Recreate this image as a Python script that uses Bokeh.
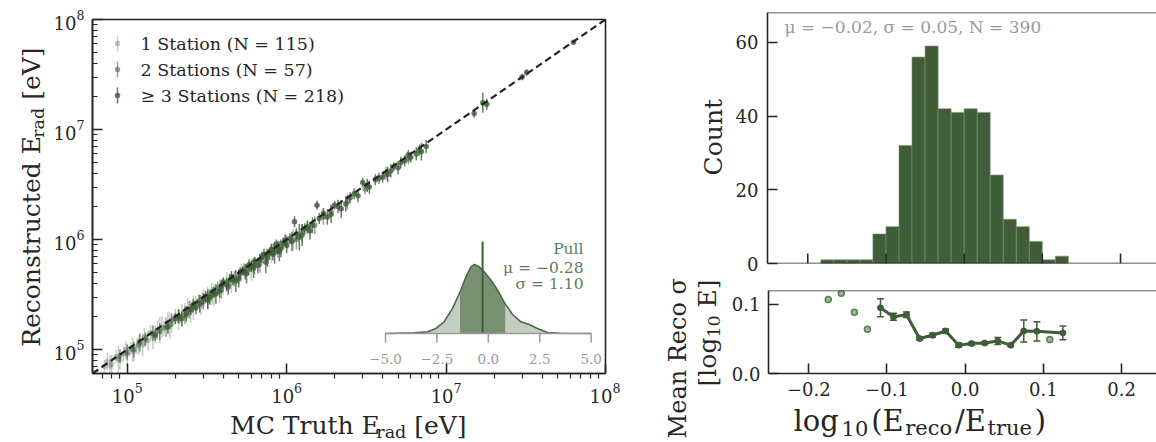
import numpy as np
from bokeh.plotting import figure
from bokeh.models import (Range1d, LinearScale, FixedTicker, LogTickFormatter,
                          Whisker, TeeHead, ColumnDataSource, Span, CustomJSTickFormatter,
                          PrintfTickFormatter)
from bokeh.layouts import row, column
from bokeh.embed import file_html
from bokeh.resources import INLINE
from bokeh.core.properties import value

# ---------------- data ----------------
# 1 station
truth_1 = [7.2e4, 8.0e4, 8.5e4, 9.0e4, 9.5e4, 1.0e5, 1.05e5, 1.1e5, 1.15e5, 1.2e5, 1.25e5,
           1.3e5, 1.35e5, 1.4e5, 1.5e5, 1.6e5, 1.7e5, 1.8e5, 1.9e5, 2.0e5, 2.1e5, 2.3e5,
           2.5e5, 2.7e5, 2.9e5, 3.2e5, 3.5e5, 4.0e5, 4.5e5, 5.2e5, 6.0e5, 8.0e5, 1.1e6,
           7.5e4, 7.8e4, 8.8e4, 9.8e4, 1.08e5, 1.18e5, 1.28e5, 1.45e5, 1.55e5, 1.65e5,
           1.85e5, 2.2e5, 2.4e5, 2.6e5, 3.0e5, 3.4e5, 3.8e5, 4.2e5]
reco_1 = [7.0e4, 7.4e4, 8.6e4, 8.0e4, 9.2e4, 9.0e4, 1.02e5, 9.6e4, 1.08e5, 1.18e5, 1.1e5,
          1.22e5, 1.2e5, 1.42e5, 1.38e5, 1.5e5, 1.55e5, 1.75e5, 1.7e5, 2.0e5, 1.85e5, 2.2e5,
          2.2e5, 2.6e5, 2.55e5, 3.1e5, 3.1e5, 3.8e5, 4.0e5, 5.0e5, 5.3e5, 7.5e5, 1.0e6,
          7.8e4, 7.1e4, 8.2e4, 9.9e4, 1.0e5, 1.1e5, 1.3e5, 1.3e5, 1.5e5, 1.6e5,
          1.65e5, 2.05e5, 2.35e5, 2.4e5, 2.9e5, 3.2e5, 3.4e5, 4.1e5]
err_1 = [0.06, 0.08, 0.06, 0.09, 0.07, 0.10, 0.06, 0.09, 0.07, 0.08, 0.10,
         0.06, 0.09, 0.07, 0.08, 0.12, 0.07, 0.10, 0.08, 0.07, 0.09, 0.08,
         0.10, 0.07, 0.09, 0.08, 0.10, 0.08, 0.09, 0.08, 0.10, 0.09, 0.10,
         0.08, 0.10, 0.12, 0.08, 0.11, 0.09, 0.08, 0.11, 0.09, 0.10,
         0.12, 0.10, 0.09, 0.11, 0.09, 0.10, 0.11, 0.09]
# 2 stations
truth_2 = [9.0e4, 1.1e5, 1.3e5, 1.6e5, 1.9e5, 2.3e5, 2.6e5, 3.0e5, 3.4e5, 3.9e5, 4.4e5, 5.0e5,
           5.8e5, 6.8e5, 7.5e5, 8.8e5, 1.0e6, 1.15e6, 1.35e6, 1.5e6, 1.9e6, 2.4e6, 3.1e6, 4.2e6,
           5.8e6, 1.0e5, 1.2e5, 1.45e5, 1.75e5, 2.1e5, 2.45e5, 2.8e5, 3.2e5, 3.7e5, 4.7e5,
           5.4e5, 6.3e5, 8.2e5, 1.25e6, 1.7e6]
reco_2 = [8.8e4, 1.0e5, 1.25e5, 1.45e5, 1.85e5, 2.05e5, 2.5e5, 2.7e5, 3.2e5, 3.5e5, 4.3e5, 4.6e5,
          5.4e5, 6.0e5, 7.3e5, 8.0e5, 9.5e5, 1.0e6, 1.3e6, 1.35e6, 1.8e6, 2.2e6, 2.9e6, 4.0e6,
          5.4e6, 9.4e4, 1.15e5, 1.4e5, 1.6e5, 2.0e5, 2.3e5, 2.75e5, 2.9e5, 3.6e5, 4.4e5,
          5.3e5, 5.8e5, 8.0e5, 1.15e6, 1.6e6]
err_2 = [0.06, 0.07, 0.06, 0.08, 0.06, 0.08, 0.06, 0.07, 0.06, 0.08, 0.05, 0.07,
         0.06, 0.08, 0.05, 0.07, 0.06, 0.09, 0.05, 0.08, 0.06, 0.07, 0.05, 0.06,
         0.05, 0.07, 0.08, 0.07, 0.09, 0.07, 0.08, 0.06, 0.09, 0.06, 0.07,
         0.06, 0.08, 0.06, 0.08, 0.07]
# >= 3 stations
truth_3 = [1.5e5, 1.8e5, 2.0e5, 2.2e5, 2.5e5, 2.7e5, 3.0e5, 3.2e5, 3.5e5, 3.8e5,
           4.0e5, 4.3e5, 4.6e5, 5.0e5, 5.3e5, 5.6e5, 6.0e5, 6.3e5, 6.6e5, 7.0e5,
           7.4e5, 7.8e5, 8.2e5, 8.6e5, 9.0e5, 9.5e5, 1.0e6, 1.05e6, 1.12e6, 1.2e6,
           1.3e6, 1.4e6, 1.55e6, 1.6e6, 1.8e6, 2.0e6, 2.2e6, 2.5e6, 2.8e6, 3.0e6,
           3.3e6, 3.6e6, 4.0e6, 4.3e6, 4.7e6, 5.0e6, 5.5e6, 6.0e6, 6.5e6, 7.0e6,
           1.5e7, 1.7e7, 1.8e7, 3.0e7, 3.2e7, 6.3e7,
           2.1e5, 2.35e5, 2.6e5, 2.85e5, 3.1e5, 3.3e5, 3.6e5, 3.9e5, 4.2e5, 4.5e5,
           4.8e5, 5.1e5, 5.5e5, 5.8e5, 6.2e5, 6.8e5, 7.2e5, 7.6e5, 8.0e5, 8.4e5,
           8.8e5, 9.2e5, 9.8e5, 1.08e6, 1.15e6, 1.25e6, 1.35e6, 1.45e6, 1.7e6, 1.9e6,
           2.1e6, 2.35e6, 2.65e6, 3.2e6, 3.8e6, 4.5e6, 5.2e6, 5.8e6, 6.8e6, 7.5e6]
reco_3 = [1.35e5, 1.6e5, 1.9e5, 1.9e5, 2.3e5, 2.4e5, 2.9e5, 2.8e5, 3.3e5, 3.4e5,
          4.1e5, 3.7e5, 4.3e5, 4.4e5, 5.2e5, 4.9e5, 5.7e5, 6.3e5, 5.8e5, 6.9e5,
          6.2e5, 7.6e5, 7.4e5, 8.9e5, 7.8e5, 9.2e5, 8.8e5, 1.02e6, 1.45e6, 1.05e6,
          1.25e6, 1.2e6, 2.05e6, 1.55e6, 1.6e6, 2.05e6, 1.9e6, 2.4e6, 2.5e6, 3.3e6,
          3.0e6, 3.5e6, 3.7e6, 3.9e6, 4.6e6, 4.5e6, 5.2e6, 5.6e6, 6.0e6, 6.3e6,
          1.4e7, 1.75e7, 1.7e7, 3.0e7, 3.3e7, 6.2e7,
          2.0e5, 2.1e5, 2.55e5, 2.6e5, 3.05e5, 3.0e5, 3.2e5, 3.8e5, 3.9e5, 4.6e5,
          4.2e5, 5.0e5, 5.1e5, 5.9e5, 5.5e5, 6.5e5, 7.3e5, 6.8e5, 8.1e5, 7.6e5,
          8.5e5, 8.3e5, 9.9e5, 9.6e5, 1.12e6, 1.1e6, 1.3e6, 1.35e6, 1.72e6, 1.7e6,
          2.0e6, 2.1e6, 2.6e6, 3.1e6, 3.6e6, 4.2e6, 5.0e6, 5.9e6, 6.5e6, 7.0e6]
err_3 = [0.05, 0.06, 0.05, 0.07, 0.05, 0.06, 0.05, 0.08, 0.05, 0.06,
         0.04, 0.07, 0.05, 0.08, 0.04, 0.09, 0.05, 0.04, 0.07, 0.05,
         0.10, 0.04, 0.06, 0.05, 0.09, 0.05, 0.07, 0.05, 0.05, 0.12,
         0.05, 0.08, 0.04, 0.05, 0.07, 0.04, 0.08, 0.05, 0.06, 0.04,
         0.06, 0.05, 0.05, 0.07, 0.04, 0.06, 0.05, 0.05, 0.06, 0.08,
         0.04, 0.09, 0.05, 0.03, 0.03, 0.02,
         0.06, 0.07, 0.05, 0.08, 0.05, 0.07, 0.09, 0.05, 0.06, 0.05,
         0.10, 0.05, 0.07, 0.05, 0.09, 0.06, 0.05, 0.08, 0.05, 0.10,
         0.06, 0.08, 0.05, 0.09, 0.05, 0.10, 0.06, 0.07, 0.05, 0.08,
         0.06, 0.07, 0.05, 0.06, 0.05, 0.06, 0.05, 0.04, 0.05, 0.06]
legend_labels = ["1 Station (N = 115)", "2 Stations (N = 57)", "\u2265 3 Stations (N = 218)"]
group_alpha = [0.3, 0.55, 0.8]

# pull distribution (KDE) for inset
pull_x = [-5.0, -3.6, -2.95, -2.55, -2.15, -1.74, -1.34, -1.09, -0.85, -0.68, -0.44,
          -0.2, 0.13, 0.45, 0.81, 1.18, 1.58, 1.99, 2.39, 2.88, 3.5, 5.0]
pull_density = [0.0, 0.003, 0.008, 0.024, 0.056, 0.120, 0.207, 0.271, 0.319, 0.330, 0.319,
                0.295, 0.255, 0.207, 0.143, 0.091, 0.056, 0.043, 0.024, 0.005, 0.001, 0.0]
pull_mu, pull_sigma = -0.28, 1.10
pull_ticks = [-5.0, -2.5, 0.0, 2.5, 5.0]
pull_tick_labels = ["\u22125.0", "\u22122.5", "0.0", "2.5", "5.0"]

# histogram of log10(Ereco/Etrue)
hist_edges = [-0.1833, -0.1667, -0.15, -0.1333, -0.1167, -0.1, -0.0833, -0.0667, -0.05,
              -0.0333, -0.0167, 0.0, 0.0167, 0.0333, 0.05, 0.0667, 0.0833, 0.1, 0.1167, 0.1333]
hist_counts = [1, 1, 1, 1, 8, 10, 32, 56, 59, 42, 41, 42, 41, 24, 12, 10, 6, 1, 2]

# mean reco sigma per bin
sig_x_line = [-0.1083, -0.0917, -0.075, -0.0583, -0.0417, -0.025, -0.0083, 0.0083,
              0.025, 0.0417, 0.0583, 0.075, 0.0917, 0.125]
sig_line = [0.095, 0.082, 0.085, 0.0505, 0.0553, 0.0615, 0.041, 0.0433, 0.044, 0.047,
            0.041, 0.0615, 0.061, 0.0587]
sig_line_err = [0.013, 0.005, 0.004, 0.002, 0.003, 0.003, 0.003, 0.002, 0.002, 0.005,
                0.002, 0.016, 0.014, 0.010]
sig_x_sparse = [-0.175, -0.1583, -0.1417, -0.125, 0.1083]
sig_sparse = [0.107, 0.116, 0.0885, 0.064, 0.049]

energy_ticks = [1e5, 1e6, 1e7, 1e8]
count_ticks = [0, 20, 40, 60]
ratio_ticks = [-0.2, -0.1, 0.0, 0.1, 0.2]
sigma_ticks = [0.0, 0.1]

# ---------------- style ----------------
FONT = "DejaVu Serif"
INK = "#262626"
GREEN = "#3f5e38"
SPINE_W = 1.6
TICK_FS = "18px"
K_MID = 0.346   # baseline -> middle offset (fraction of font size)

WID = {' ': 318, '(': 390, ')': 390, '/': 337, '[': 390, ']': 390, '.': 318, ',': 318,
       'C': 698, 'E': 683, 'M': 995, 'R': 732, 'T': 668, 'V': 775, 'N': 872,
       'a': 596, 'c': 560, 'd': 640, 'e': 592, 'g': 640, 'h': 644, 'l': 320, 'n': 644,
       'o': 602, 'r': 478, 's': 513, 't': 402, 'u': 644, '\u03c3': 624}


def tw(s, size):
    return sum(WID.get(c, 636) for c in s) / 1000.0 * size


def label_fig(x0, x1, y0, y1, bl=0, br=0, bt=0, bb=0):
    """Blank figure whose data coordinates equal page pixels (x0..x1, y0..y1)."""
    f = figure(width=x1 - x0, height=y1 - y0,
               x_range=Range1d(x0 + bl, x1 - br), y_range=Range1d(y1 - bb, y0 + bt),
               min_border_left=bl, min_border_right=br, min_border_top=bt,
               min_border_bottom=bb, x_axis_location=None, y_axis_location=None,
               output_backend="svg", toolbar_location=None)
    f.grid.visible = False
    f.outline_line_color = None
    return f


def add_pieces(fig, pieces, anchor, rotated=False, align="center", gap=0.0):
    """pieces: (text, font px, baseline shift px); anchor = (baseline/along) page pixels."""
    total = sum(tw(t, s) for t, s, _ in pieces) + gap * (len(pieces) - 1)
    along, base = (anchor[1], anchor[0]) if rotated else anchor
    if rotated:
        pos = along + total / 2 if align == "center" else along
    else:
        pos = along - total / 2 if align == "center" else along
    sign = -1 if rotated else 1
    for t, s, dy in pieces:
        lead = len(t) - len(t.lstrip(" "))
        pos += sign * tw(" " * lead, s)
        core = t.strip(" ")
        mid = base + dy - K_MID * s
        if rotated:
            fig.text([mid], [pos], text=[core], angle=np.pi / 2, text_font=value(FONT),
                     text_font_size=value(f"{s}px"), text_color=INK,
                     text_align="left", text_baseline="middle")
        else:
            fig.text([pos], [mid], text=[core], text_font=value(FONT),
                     text_font_size=value(f"{s}px"), text_color=INK,
                     text_align="left", text_baseline="middle")
        pos += sign * (tw(core, s) + gap)


def style_axis(ax, tin=10, tout=0, min_in=0, min_out=0, standoff=8):
    ax.axis_line_color = INK
    ax.axis_line_width = SPINE_W
    ax.major_tick_line_color = INK
    ax.major_tick_line_width = SPINE_W
    ax.minor_tick_line_color = INK
    ax.minor_tick_line_width = 1.2
    ax.major_tick_in = tin
    ax.major_tick_out = tout
    ax.minor_tick_in = min_in
    ax.minor_tick_out = min_out
    ax.major_label_text_font = FONT
    ax.major_label_text_font_size = TICK_FS
    ax.major_label_text_color = INK
    ax.major_label_standoff = standoff


# ---------------- left: reco vs truth ----------------
E_LO, E_HI = 10 ** 4.782, 1e8
YL_W = 49
L_FL, L_FT, L_FW, L_FH = 92, 19, 513, 354
L_FB = L_FT + L_FH
L_H = 405
p1 = figure(frame_width=L_FW, frame_height=L_FH, min_border_left=L_FL - YL_W,
            min_border_right=15, min_border_top=L_FT, min_border_bottom=L_H - L_FB,
            x_axis_type="log", y_axis_type="log",
            x_range=Range1d(E_LO, E_HI), y_range=Range1d(E_LO, E_HI),
            output_backend="svg", toolbar_location=None)
p1.grid.visible = False
p1.outline_line_color = INK
p1.outline_line_width = SPINE_W
minor_e = [m * 10 ** k for k in range(4, 8) for m in range(2, 10)]
p1.xaxis.ticker = FixedTicker(ticks=energy_ticks, minor_ticks=minor_e)
p1.yaxis.ticker = FixedTicker(ticks=energy_ticks, minor_ticks=minor_e)
p1.xaxis.formatter = LogTickFormatter()
p1.yaxis.formatter = LogTickFormatter()
style_axis(p1.xaxis[0], tin=10, tout=0, min_in=0, min_out=5, standoff=4)
style_axis(p1.yaxis[0], tin=10, tout=0, min_in=5, min_out=0, standoff=8)

p1.extra_x_ranges = {"pull": Range1d(-19.244, 5.695), "cx": Range1d(L_FL, L_FL + L_FW)}
p1.extra_y_ranges = {"dens": Range1d(-0.1914, 1.5024), "cy": Range1d(L_FB, L_FT)}
p1.extra_x_scales = {"pull": LinearScale(), "cx": LinearScale()}
p1.extra_y_scales = {"dens": LinearScale(), "cy": LinearScale()}

for t, r, e, a in [(truth_1, reco_1, err_1, group_alpha[0]),
                   (truth_2, reco_2, err_2, group_alpha[1]),
                   (truth_3, reco_3, err_3, group_alpha[2])]:
    t = np.array(t)
    r = np.array(r)
    e = np.array(e)
    src = ColumnDataSource(dict(x=t, y=r, lo=r / 10 ** e, hi=r * 10 ** e))
    p1.segment(x0="x", y0="lo", x1="x", y1="hi", source=src, line_color=GREEN,
               line_alpha=a, line_width=1.5)
    p1.scatter(x="x", y="y", source=src, size=5.5, fill_color=GREEN, fill_alpha=a,
               line_color=None)

p1.line([E_LO, E_HI], [E_LO, E_HI], line_color="#222222", line_width=2.2, line_dash="7 4")

# legend handles (canvas-pixel coordinates)
for i, (lab, a) in enumerate(zip(legend_labels, group_alpha)):
    yy = 43 + 26 * i
    p1.segment(x0=[117], y0=[yy - 8], x1=[117], y1=[yy + 8], x_range_name="cx",
               y_range_name="cy", line_color=GREEN, line_alpha=a, line_width=1.5)
    p1.scatter([117], [yy], x_range_name="cx", y_range_name="cy", size=5.5,
               fill_color=GREEN, fill_alpha=a, line_color=None)
    p1.text([140], [yy], text=[lab], x_range_name="cx", y_range_name="cy",
            text_font=value(FONT), text_font_size="17.5px", text_color=INK,
            text_baseline="middle", text_align="left")

# inset: pull KDE
px = np.array(pull_x)
pdn = np.array(pull_density)
p1.varea(x=px, y1=np.zeros_like(px), y2=pdn, x_range_name="pull", y_range_name="dens",
         fill_color="#c3cec0")
lo_b, hi_b = pull_mu - pull_sigma, pull_mu + pull_sigma
inside = (px > lo_b) & (px < hi_b)
bx = np.concatenate([[lo_b], px[inside], [hi_b]])
by = np.interp(bx, px, pdn)
p1.varea(x=bx, y1=np.zeros_like(bx), y2=by, x_range_name="pull", y_range_name="dens",
         fill_color="#788f72")
p1.line(px, pdn, x_range_name="pull", y_range_name="dens", line_color="#4a6b44",
        line_width=1.6)
p1.segment(x0=[pull_mu], y0=[0], x1=[pull_mu], y1=[0.44], x_range_name="pull",
           y_range_name="dens", line_color=GREEN, line_width=2)
p1.segment(x0=[pull_ticks[0]], y0=[0], x1=[pull_ticks[-1]], y1=[0], x_range_name="pull",
           y_range_name="dens", line_color="#9a9a9a", line_width=1.5)
p1.segment(x0=pull_ticks, y0=[0] * len(pull_ticks), x1=pull_ticks, y1=[-0.043] * len(pull_ticks),
           x_range_name="pull", y_range_name="dens", line_color="#9a9a9a", line_width=1.5)
p1.text(x=pull_ticks, y=[-0.12] * len(pull_ticks), text=pull_tick_labels, x_range_name="pull",
        y_range_name="dens", text_font=value(FONT), text_font_size="13.5px",
        text_color="#9a9a9a", text_align="center", text_baseline="middle")
for txt, yc in [("Pull", 248), ("\u03bc = \u22120.28", 267), ("\u03c3 = 1.10", 283)]:
    p1.text([583], [yc], text=[txt], x_range_name="cx", y_range_name="cy",
            text_font=value(FONT), text_font_size="15.5px", text_color="#5e7c59",
            text_align="right", text_baseline="middle")

# label strips for the left panel (frame aligned with p1's frame)
ylab1 = label_fig(0, YL_W, 0, L_H, bt=L_FT, bb=L_H - L_FB)
add_pieces(ylab1, [("Reconstructed E", 25, 0), ("rad", 17.5, 4), (" [eV]", 25, 0)],
           (40, 196), rotated=True)
xlab1 = label_fig(0, 620, L_H, 442)
add_pieces(xlab1, [("MC Truth E", 25, 0), ("rad", 17.5, 4), (" [eV]", 25, 0)],
           (348.5, 434))

# ---------------- right top: histogram ----------------
X_LO, X_HI = -0.2515, 0.246
Y_HI = 68.1
R_X0 = 620
YR_W = 108
R_FL = 767
H_FT, H_FH = 12, 251
H_FB = H_FT + H_FH
H_H = 275
p2 = figure(frame_width=1156 - R_FL, frame_height=H_FH, min_border_left=R_FL - R_X0 - YR_W,
            min_border_right=0, min_border_top=H_FT, min_border_bottom=H_H - H_FB,
            x_range=Range1d(X_LO, X_HI), y_range=Range1d(0, Y_HI),
            x_axis_location=None, output_backend="svg", toolbar_location=None)
p2.grid.visible = False
p2.outline_line_color = None
p2.yaxis.ticker = FixedTicker(ticks=count_ticks)
style_axis(p2.yaxis[0], standoff=9)
p2.add_layout(Span(location=Y_HI, dimension="width", line_color=INK, line_width=SPINE_W))
p2.add_layout(Span(location=0, dimension="width", line_color=INK, line_width=SPINE_W))
p2.quad(left=hist_edges[:-1], right=hist_edges[1:], bottom=0, top=hist_counts,
        fill_color=GREEN, line_color="#7b9076", line_width=0.6)
# inward ticks of the (label-less) shared x axis, 10 px long
tick_len = 10.0 * Y_HI / H_FH
p2.segment(x0=ratio_ticks, y0=[0] * len(ratio_ticks), x1=ratio_ticks,
           y1=[tick_len] * len(ratio_ticks), line_color=INK, line_width=SPINE_W)
p2.extra_x_ranges = {"cx": Range1d(R_FL, 1156)}
p2.extra_y_ranges = {"cy": Range1d(H_FB, H_FT)}
p2.extra_x_scales = {"cx": LinearScale()}
p2.extra_y_scales = {"cy": LinearScale()}
p2.text([784], [26.5], text=["\u03bc = \u22120.02, \u03c3 = 0.05, N = 390"], x_range_name="cx",
        y_range_name="cy", text_font=value(FONT), text_font_size="17px",
        text_color="#9a9a9a", text_baseline="middle", text_align="left")
ylab2 = label_fig(R_X0, R_X0 + YR_W, 0, H_H, bt=H_FT, bb=H_H - H_FB)
add_pieces(ylab2, [("Count", 25, 0)], (722, 137.5), rotated=True)

# ---------------- right bottom: mean reco sigma ----------------
B_FT, B_FH = 15, 83
B_FB = B_FT + B_FH
B_H = 130
p3 = figure(frame_width=1156 - R_FL, frame_height=B_FH, min_border_left=R_FL - R_X0 - YR_W,
            min_border_right=0, min_border_top=B_FT, min_border_bottom=B_H - B_FB,
            x_range=p2.x_range, y_range=Range1d(0, 0.12),
            output_backend="svg", toolbar_location=None)
p3.grid.visible = False
p3.outline_line_color = None
p3.xaxis.ticker = FixedTicker(ticks=ratio_ticks)
p3.yaxis.ticker = FixedTicker(ticks=sigma_ticks)
style_axis(p3.xaxis[0], standoff=8)
style_axis(p3.yaxis[0], standoff=8)
p3.xaxis.formatter = CustomJSTickFormatter(
    code="return (tick < -1e-9 ? '\\u2212' : '') + Math.abs(tick).toFixed(1)")
p3.yaxis.formatter = PrintfTickFormatter(format="%.1f")
p3.add_layout(Span(location=0.12, dimension="width", line_color=INK, line_width=SPINE_W))

sx = np.array(sig_x_line)
sy = np.array(sig_line)
se = np.array(sig_line_err)
ssrc = ColumnDataSource(dict(x=sx, y=sy, lo=sy - se, hi=sy + se))
p3.add_layout(Whisker(source=ssrc, base="x", upper="hi", lower="lo", line_color=GREEN,
                      line_width=1.5,
                      upper_head=TeeHead(size=7, line_color=GREEN, line_width=1.5),
                      lower_head=TeeHead(size=7, line_color=GREEN, line_width=1.5)))
p3.line("x", "y", source=ssrc, line_color=GREEN, line_width=3)
p3.scatter("x", "y", source=ssrc, size=6, fill_color=GREEN, line_color=GREEN)
p3.scatter(sig_x_sparse, sig_sparse, size=6, fill_color="#9fb49b", line_color="#5e7c59",
           line_width=1.5)

ylab3 = label_fig(R_X0, R_X0 + YR_W, H_H, 442)
add_pieces(ylab3, [("Mean Reco \u03c3", 24, 0)], (686, 359), rotated=True)
add_pieces(ylab3, [("[log", 25, 0), ("10", 17.5, 4), (" E]", 25, 0)], (716, 333),
           rotated=True)
# x-label strip under p3: its frame is aligned with p3's frame (starts at R_FL)
xlab3 = label_fig(R_X0 + YR_W, 1156, H_H + B_H, 442, bl=R_FL - R_X0 - YR_W)
add_pieces(xlab3, [("log", 29, 0), ("10", 21, 4), ("(E", 29, 0), ("reco", 21, 4),
                   ("/E", 29, 0), ("true", 21, 4), (")", 29, 0)], (792, 431),
           align="left", gap=3)

left = column(row(ylab1, p1), xlab1)
right = column(row(ylab2, p2), row(ylab3, column(p3, xlab3)))
layout = row(left, right)
open("out.html", "w").write(file_html(layout, INLINE))
